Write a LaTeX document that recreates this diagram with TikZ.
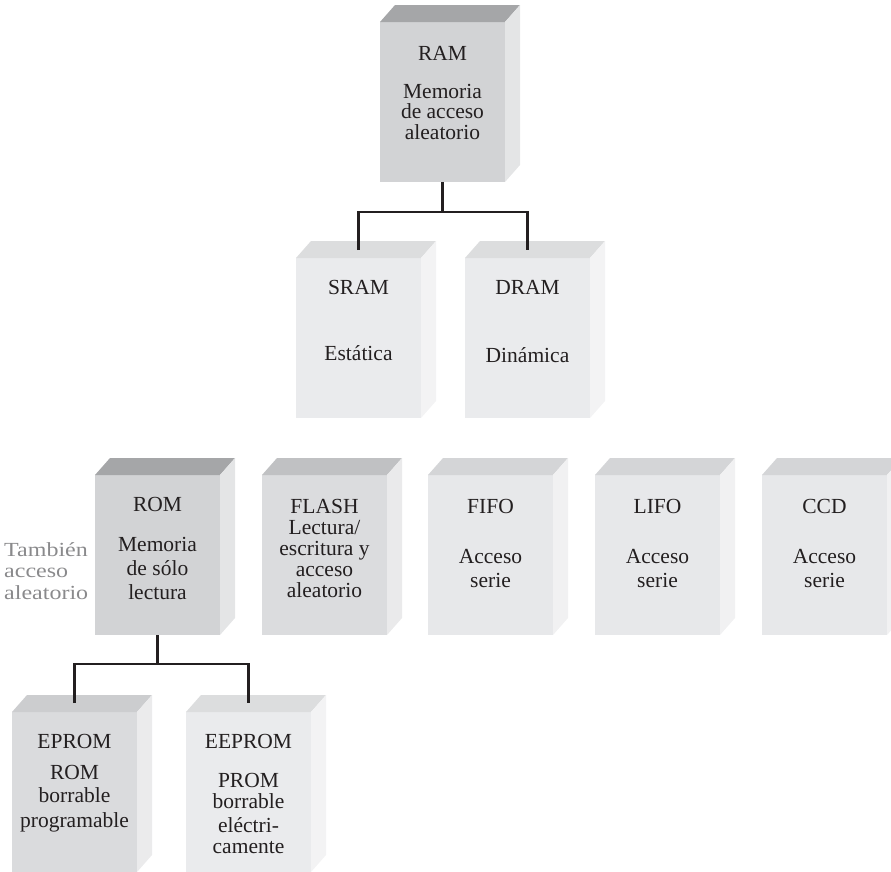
\documentclass[tikz,border=0pt]{standalone}
\usepackage{fontspec}
\setmainfont{Liberation Serif}
\newfontfamily\graylabelfont[FakeStretch=1.2]{Liberation Serif}
\usetikzlibrary{calc}
\definecolor{textc}{HTML}{231F20}
\definecolor{linec}{HTML}{231F20}
\definecolor{notec}{HTML}{8A8A8C}
% dark boxes (RAM, ROM)
\definecolor{darkf}{HTML}{D2D3D5}\definecolor{darkt}{HTML}{A5A6A8}\definecolor{darks}{HTML}{E4E5E6}
% pale boxes (SRAM, DRAM, EEPROM)
\definecolor{palef}{HTML}{EAEBED}\definecolor{palet}{HTML}{DCDDDE}\definecolor{pales}{HTML}{F3F3F4}
% mid boxes (FLASH)
\definecolor{midf}{HTML}{DBDCDE}\definecolor{midt}{HTML}{C0C1C3}\definecolor{mids}{HTML}{EAEAEB}
% serial boxes (FIFO, LIFO, CCD)
\definecolor{serf}{HTML}{E7E8EA}\definecolor{sert}{HTML}{D4D5D7}\definecolor{sers}{HTML}{F1F1F2}
% EPROM
\definecolor{epf}{HTML}{DADBDD}\definecolor{ept}{HTML}{CCCDCF}\definecolor{eps}{HTML}{EBEBEC}
\tikzset{
  front/.style={rectangle, inner sep=0pt, outer sep=0pt, minimum width=125pt, minimum height=160pt, anchor=north west},
  txt/.style={font=\fontsize{21.5}{21.5}\selectfont, text=textc, inner sep=0pt, anchor=base},
  conn/.style={line width=2.2pt, draw=linec},
  note/.style={font=\graylabelfont\fontsize{20}{20}\selectfont, text=notec, inner sep=0pt, anchor=base west},
}
\newcommand\membox[4]{%
  \node[front, fill=#4f] (#1) at (#2,#3) {};
  \fill[#4t] (#1.north west) -- ++(15pt,17pt) -- ++(125pt,0pt) -- (#1.north east) -- cycle;
  \fill[#4s] (#1.north east) -- ++(15pt,17pt) -- ++(0pt,-160pt) -- (#1.south east) -- cycle;
}
\newcommand\memlines[2]{%
  \foreach \o/\t [count=\i] in {#2} {\node[txt] (#1-\i) at ($(#1.north)+(0pt,-\o pt)$) {\t};}%
}
\begin{document}
\begin{tikzpicture}[x=1pt, y=-1pt]
\useasboundingbox (0,0) rectangle (891,871);
\clip (0,0) rectangle (891,871);
% boxes
\membox{ram}{380}{22}{dark}
\membox{sram}{296}{258}{pale}
\membox{dram}{465}{258}{pale}
\membox{rom}{95}{475}{dark}
\membox{flash}{262}{475}{mid}
\membox{fifo}{428}{475}{ser}
\membox{lifo}{595}{475}{ser}
\membox{ccd}{762}{475}{ser}
\membox{eprom}{12}{712}{ep}
\membox{eeprom}{186}{712}{pale}
% texts
\memlines{ram}{38/RAM, 76/Memoria, 96.5/de acceso, 117/aleatorio}
\memlines{sram}{36/SRAM, 102/Estática}
\memlines{dram}{36/DRAM, 104/Dinámica}
\memlines{rom}{36/ROM, 76/Memoria, 100/de sólo, 124/lectura}
\memlines{flash}{38/FLASH, 59/Lectura\slash, 80/escritura y, 101/acceso, 122/aleatorio}
\memlines{fifo}{38/FIFO, 88/Acceso, 112/serie}
\memlines{lifo}{38/LIFO, 88/Acceso, 112/serie}
\memlines{ccd}{38/CCD, 88/Acceso, 112/serie}
\memlines{eprom}{36/EPROM, 67/ROM, 90/borrable, 115/programable}
\memlines{eeprom}{36/EEPROM, 75/PROM, 96/borrable, 120/eléctri-, 141/camente}
% note
\node[note] (note1) at (4,556) {También};
\node[note] (note2) at (4,577.5) {acceso};
\node[note] (note3) at (4,599) {aleatorio};
% connectors
\coordinate (j1) at ($(ram.south)+(0pt,-30pt)$);
\coordinate (sramin) at ($(sram.north)+(0pt,8pt)$);
\coordinate (dramin) at ($(dram.north)+(0pt,8pt)$);
\draw[conn] (ram.south) -- (j1);
\draw[conn] (sramin) |- (j1) -| (dramin);
\coordinate (j2) at ($(rom.south)+(0pt,-29pt)$);
\coordinate (epromin) at ($(eprom.north)+(0pt,9pt)$);
\coordinate (eepromin) at ($(eeprom.north)+(0pt,9pt)$);
\draw[conn] (rom.south) -- (j2);
\draw[conn] (epromin) |- (j2) -| (eepromin);
\end{tikzpicture}
\end{document}
